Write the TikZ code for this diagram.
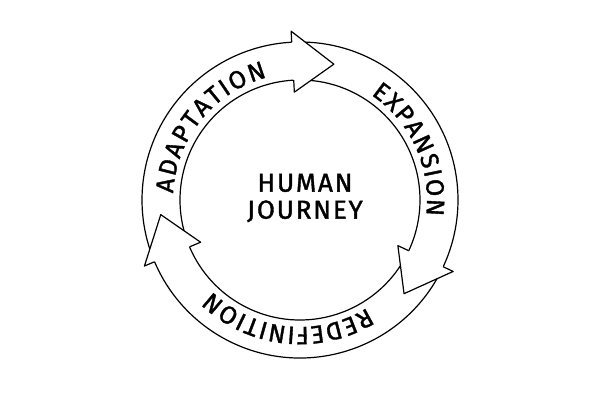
\documentclass[tikz,border=0pt]{standalone}
\usepackage{fontspec}
\setmainfont{Fira Sans}
\newfontfamily\hand{Fira Sans}[FakeBold=1.4]
\newfontfamily\handwide{Fira Sans}[FakeBold=1.4,LetterSpace=7]
\usetikzlibrary{decorations.text}
\tikzset{
  ring/.style={line width=1.2pt},
  bandtext/.style={decorate,decoration={text along path,text={|\hand\fontsize{25}{30}\selectfont|#1},text align={fit to path}}},
}
\begin{document}
\begin{tikzpicture}[x=1pt,y=1pt,line join=round]
\useasboundingbox (-300,-200) rectangle (300,200);
% bands: tail angle / head angle
\foreach \a/\b in {200.5/93, 90.5/-25, -27.5/-157}{
  \draw[ring] (\a:158) arc[start angle=\a,end angle=\b,radius=158pt];
  \draw[ring] (\a:120) arc[start angle=\a,end angle=\b,radius=120pt];
}
% heads
\foreach \b in {93,-25,-157}
  \filldraw[ring,fill=white] (\b:158) -- (\b:169) -- ({\b-17}:140) -- (\b:108) -- (\b:120);
% labels
\path[bandtext=ADAPTATION] (177:127) arc[start angle=177,end angle=105,radius=127pt];
\path[bandtext=EXPANSION] (56:127) arc[start angle=56,end angle=-7,radius=127pt];
\path[bandtext=REDEFINITION] (-58:127) arc[start angle=-58,end angle=-134,radius=127pt];
\node[font=\handwide\fontsize{26}{27}\selectfont,align=center] (journey) at (5,2) {HUMAN\\JOURNEY};
\end{tikzpicture}
\end{document}
